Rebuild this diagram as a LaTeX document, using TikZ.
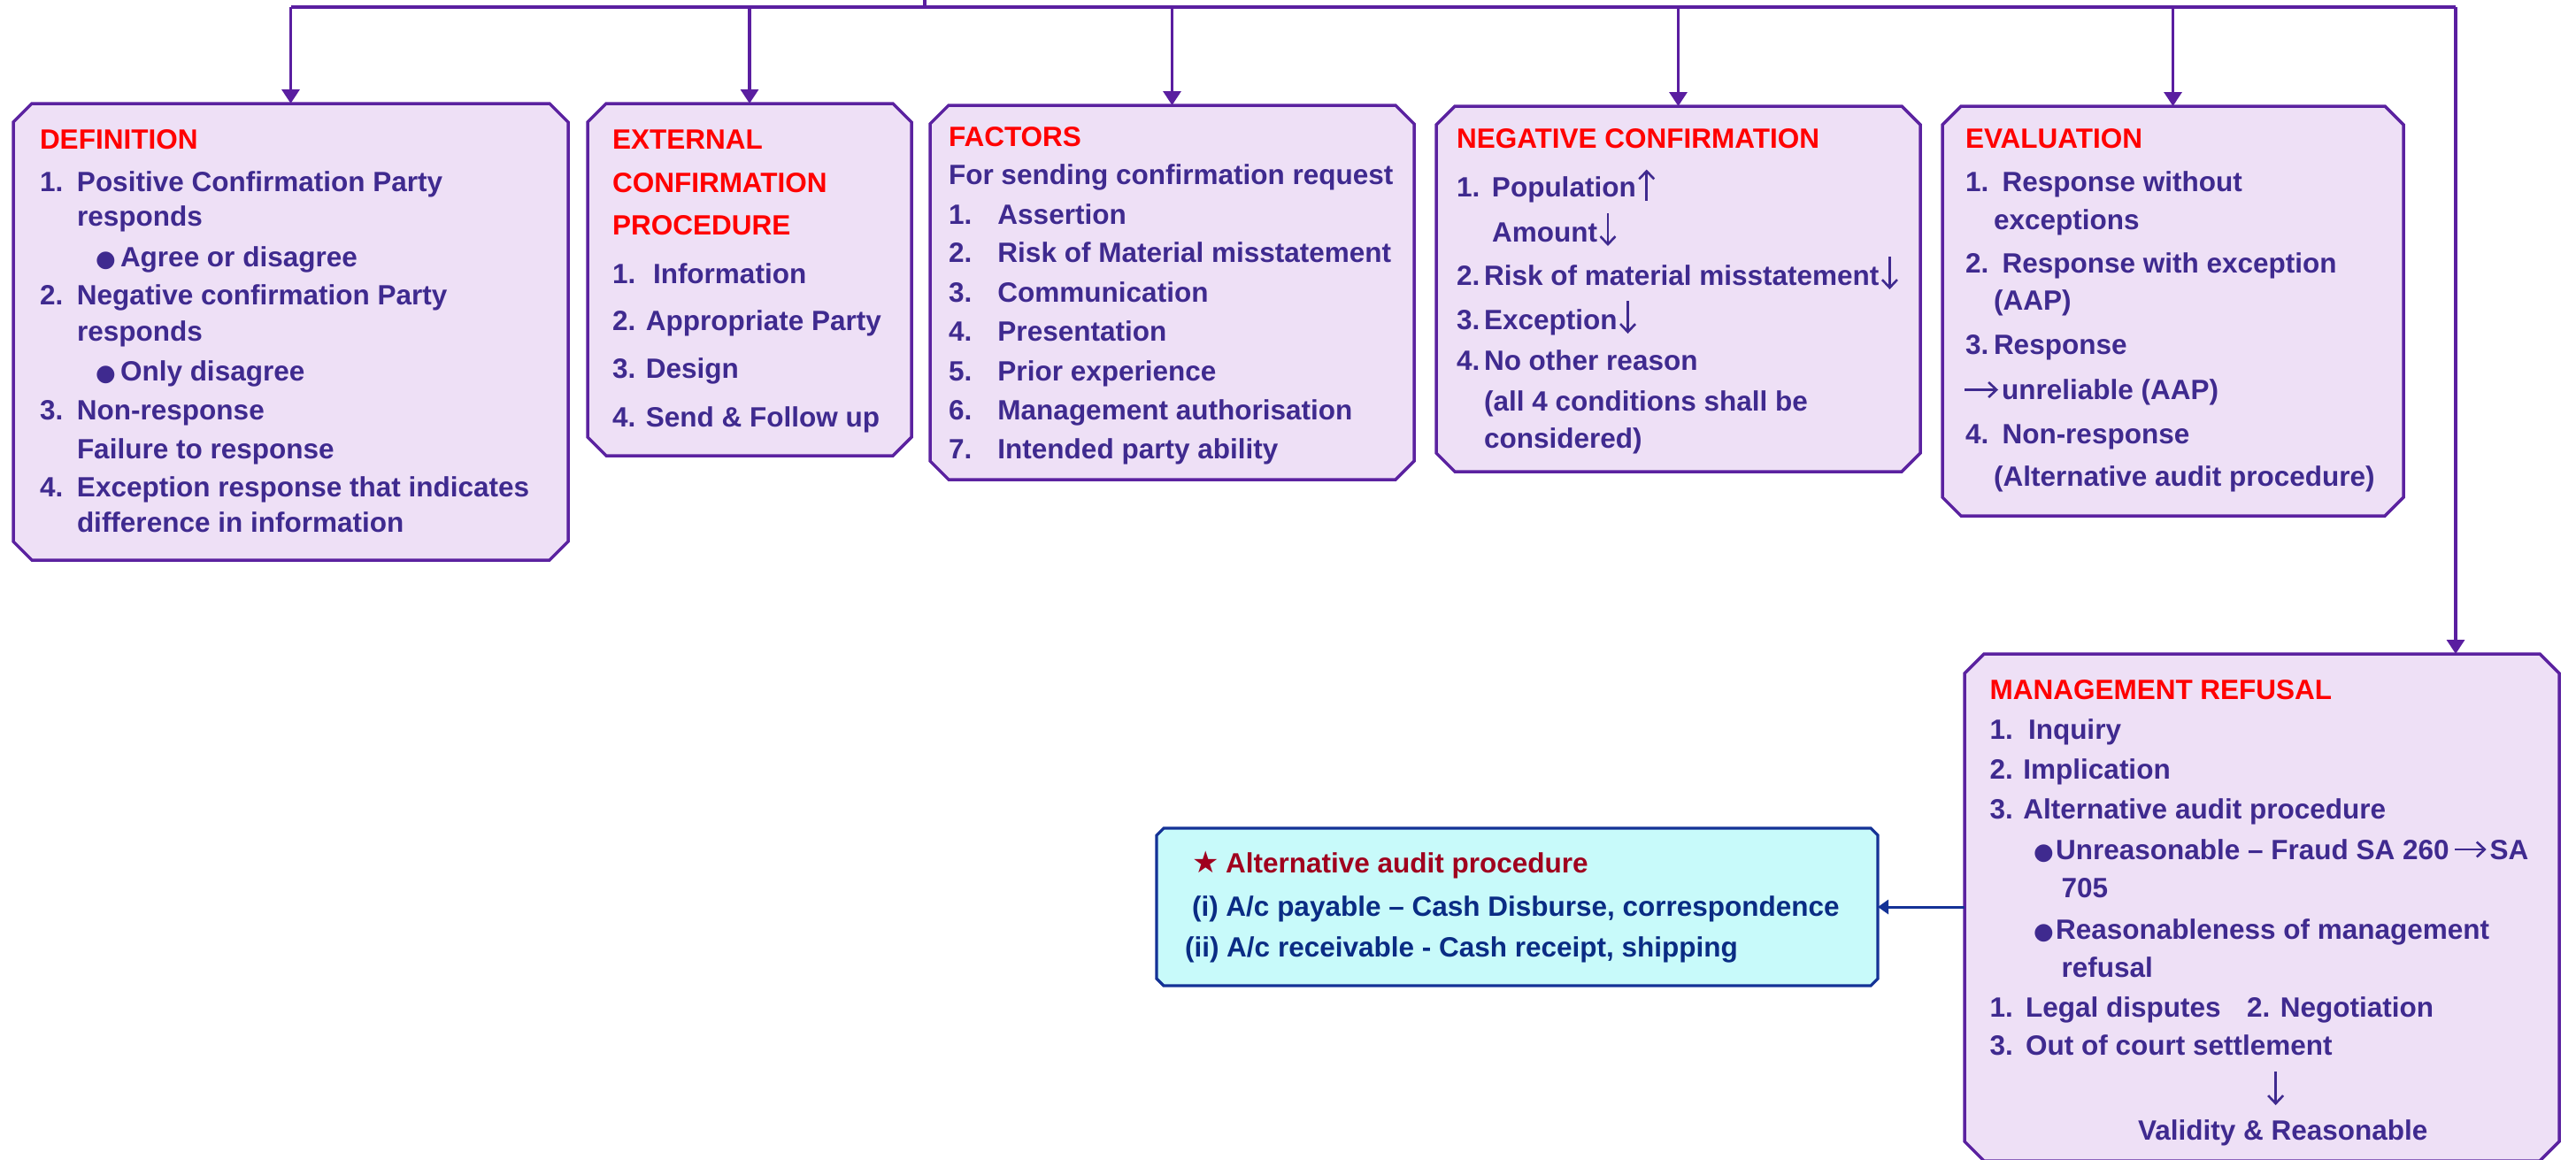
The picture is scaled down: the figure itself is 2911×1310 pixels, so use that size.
\documentclass[tikz,border=0pt]{standalone}
\usepackage{fontspec}
\setmainfont{Liberation Sans}
\newfontfamily\symfont{DejaVu Sans}
\usetikzlibrary{arrows.meta}

\definecolor{busline}{HTML}{5A1EA0}
\definecolor{boxline}{HTML}{5B22A0}
\definecolor{boxfill}{HTML}{EEE0F6}
\definecolor{ink}{HTML}{3F2A8F}
\definecolor{titlered}{HTML}{FF0000}
\definecolor{altfill}{HTML}{C8FAFA}
\definecolor{altline}{HTML}{143296}
\definecolor{altink}{HTML}{0A2C84}
\definecolor{altred}{HTML}{A0001E}

\newcommand\bodyfont{\fontsize{31.5}{38}\selectfont\bfseries}
\newcommand\lbl[2]{\makebox[#1pt][l]{#2}}
\newcommand\bul{{\symfont\mdseries\fontsize{26}{26}\selectfont ●}}
\newcommand\starmark{{\symfont\mdseries\fontsize{34}{34}\selectfont ★}}

% chamfered outline around a named area node: name, chamfer, style
\newcommand\octbox[3]{%
  \path[#3] ([xshift=#2pt]#1.north west) -- ([xshift=-#2pt]#1.north east)
    -- ([yshift=-#2pt]#1.north east) -- ([yshift=#2pt]#1.south east)
    -- ([xshift=-#2pt]#1.south east) -- ([xshift=#2pt]#1.south west)
    -- ([yshift=#2pt]#1.south west) -- ([yshift=-#2pt]#1.north west) -- cycle;}

% small up/down arrow right after the text of a node
\newcommand\upafter[1]{\draw[glyph] ([xshift=12pt,yshift=-4pt]#1.base east) -- ([xshift=12pt,yshift=31pt]#1.base east);}
\newcommand\dnafter[1]{\draw[glyph] ([xshift=12pt,yshift=32pt]#1.base east) -- ([xshift=12pt,yshift=-5pt]#1.base east);}

\tikzset{
  area/.style={rectangle, inner sep=0pt, outer sep=0pt, anchor=north west},
  panel/.style={draw=boxline, fill=boxfill, line width=3.5pt, line join=miter},
  altpanel/.style={draw=altline, fill=altfill, line width=3.2pt, line join=miter},
  txt/.style={anchor=base west, inner sep=0pt, outer sep=0pt, text=ink, font=\bodyfont},
  ttl/.style={txt, text=titlered},
  alttxt/.style={txt, text=altink},
  altttl/.style={txt, text=altred},
  bus/.style={draw=busline, line width=3.3pt},
  drop/.style={bus, -{Triangle[width=20pt,length=16pt]}},
  feed/.style={draw=altline, line width=3pt, -{Triangle[width=16pt,length=12pt]}},
  glyph/.style={draw=ink, line width=2.6pt, -{Straight Barb[length=9pt,width=17pt]}},
}

\begin{document}
\begin{tikzpicture}[x=1pt, y=-1pt]
\useasboundingbox (0,0) rectangle (2911,1310);

% panel areas
\node[area, minimum width=627pt, minimum height=516pt] (def) at (15,117) {};
\node[area, minimum width=366pt, minimum height=398pt] (ext) at (664,117) {};
\node[area, minimum width=547pt, minimum height=423pt] (fac) at (1051,119) {};
\node[area, minimum width=547pt, minimum height=413pt] (neg) at (1623,120) {};
\node[area, minimum width=521pt, minimum height=463pt] (eva) at (2195,120) {};
\node[area, minimum width=672pt, minimum height=573pt] (mgt) at (2220,739) {};
\node[area, minimum width=815pt, minimum height=178pt] (alt) at (1307,936) {};

\octbox{def}{21}{panel}
\octbox{ext}{21}{panel}
\octbox{fac}{21}{panel}
\octbox{neg}{21}{panel}
\octbox{eva}{21}{panel}
\octbox{mgt}{22}{panel}
\octbox{alt}{8}{altpanel}

% distribution bus
\coordinate (root) at (1045,0);
\coordinate (hub) at (1045,8);
\coordinate (busR) at (2775,8);
\draw[bus] (root) -- (hub);
\draw[bus] (hub -| def.north) -- (busR);
\draw[drop] (hub -| def.north) -- (def.north);
\draw[drop] (hub -| ext.north) -- (ext.north);
\draw[drop] (hub -| fac.north) -- (fac.north);
\draw[drop] (hub -| neg.north) -- (neg.north);
\draw[drop] (hub -| eva.north) -- (eva.north);
\draw[drop] (busR) -- (busR |- mgt.north);
\draw[feed] (mgt.west |- alt.east) -- (alt.east);

% DEFINITION
\node[ttl] (d0) at (45,168) {DEFINITION};
\node[txt] (d1) at (45,216) {\lbl{42}{1.}Positive Confirmation Party};
\node[txt] (d2) at (87,255) {responds};
\node[txt] (d3) at (108,301) {\lbl{28}{\bul}Agree or disagree};
\node[txt] (d4) at (45,344) {\lbl{42}{2.}Negative confirmation Party};
\node[txt] (d5) at (87,385) {responds};
\node[txt] (d6) at (108,430) {\lbl{28}{\bul}Only disagree};
\node[txt] (d7) at (45,474) {\lbl{42}{3.}Non-response};
\node[txt] (d8) at (87,518) {Failure to response};
\node[txt] (d9) at (45,561) {\lbl{42}{4.}Exception response that indicates};
\node[txt] (d10) at (87,601) {difference in information};

% EXTERNAL CONFIRMATION PROCEDURE
\node[ttl] (e0) at (692,168) {EXTERNAL};
\node[ttl] (e1) at (692,217) {CONFIRMATION};
\node[ttl] (e2) at (692,265) {PROCEDURE};
\node[txt] (e3) at (692,320) {\lbl{46}{1.}Information};
\node[txt] (e4) at (692,373) {2. Appropriate Party};
\node[txt] (e5) at (692,427) {3. Design};
\node[txt] (e6) at (692,482) {4. Send \& Follow up};

% FACTORS
\node[ttl] (f0) at (1072,165) {FACTORS};
\node[txt] (f1) at (1072,208.5) {For sending confirmation request};
\node[txt] (f2) at (1072,253) {\lbl{55.5}{1.}Assertion};
\node[txt] (f3) at (1072,296.5) {\lbl{55.5}{2.}Risk of Material misstatement};
\node[txt] (f4) at (1072,341) {\lbl{55.5}{3.}Communication};
\node[txt] (f5) at (1072,385) {\lbl{55.5}{4.}Presentation};
\node[txt] (f6) at (1072,430) {\lbl{55.5}{5.}Prior experience};
\node[txt] (f7) at (1072,474) {\lbl{55.5}{6.}Management authorisation};
\node[txt] (f8) at (1072,518) {\lbl{55.5}{7.}Intended party ability};

% NEGATIVE CONFIRMATION
\node[ttl] (n0) at (1646,167.5) {NEGATIVE CONFIRMATION};
\node[txt] (n1) at (1646,222.5) {\lbl{40}{1.}Population};
\node[txt] (n2) at (1686,273) {Amount};
\node[txt] (n3) at (1646,322) {\lbl{31}{2.}Risk of material misstatement};
\node[txt] (n4) at (1646,372) {\lbl{31}{3.}Exception};
\node[txt] (n5) at (1646,418) {\lbl{31}{4.}No other reason};
\node[txt] (n6) at (1677,464) {(all 4 conditions shall be};
\node[txt] (n7) at (1677,506.5) {considered)};
\upafter{n1}
\dnafter{n2}
\dnafter{n3}
\dnafter{n4}

% EVALUATION
\node[ttl] (v0) at (2221,167.5) {EVALUATION};
\node[txt] (v1) at (2221,216) {\lbl{41.5}{1.}Response without};
\node[txt] (v2) at (2253,259) {exceptions};
\node[txt] (v3) at (2221,308) {\lbl{41.5}{2.}Response with exception};
\node[txt] (v4) at (2253,350) {(AAP)};
\node[txt] (v5) at (2221,400) {\lbl{32}{3.}Response};
\node[txt] (v6) at (2262,451.5) {unreliable (AAP)};
\node[txt] (v7) at (2221,501) {\lbl{41.5}{4.}Non-response};
\node[txt] (v8) at (2253,549) {(Alternative audit procedure)};
\draw[glyph] ([xshift=-42pt,yshift=11pt]v6.base west) -- ([xshift=-4pt,yshift=11pt]v6.base west);

% MANAGEMENT REFUSAL
\node[ttl] (m0) at (2248.5,790.5) {MANAGEMENT REFUSAL};
\node[txt] (m1) at (2248.5,835) {\lbl{43.5}{1.}Inquiry};
\node[txt] (m2) at (2248.5,880) {2. Implication};
\node[txt] (m3) at (2248.5,925) {3. Alternative audit procedure};
\node[txt] (m4) at (2298,971) {\lbl{25}{\bul}Unreasonable – Fraud SA 260};
\node[txt] (m4b) at ([xshift=46pt]m4.base east) {SA};
\draw[glyph] ([xshift=6pt,yshift=11pt]m4.base east) -- ([xshift=-4pt,yshift=11pt]m4b.base west);
\node[txt] (m5) at (2329.5,1014.5) {705};
\node[txt] (m6) at (2298,1061.5) {\lbl{25}{\bul}Reasonableness of management};
\node[txt] (m7) at (2329.5,1104) {refusal};
\node[txt] (m8) at (2248.5,1149) {\lbl{40.5}{1.}Legal disputes};
\node[txt] (m9) at (2539,1149) {2. Negotiation};
\node[txt] (m10) at (2248.5,1192) {\lbl{40.5}{3.}Out of court settlement};
\node[txt] (m12) at (2416,1288) {Validity \& Reasonable};
\coordinate (vtop) at (2571.6,1211);
\coordinate (vbot) at (2571.6,1249);
\draw[glyph] (vtop) -- (vbot);

% alternative audit procedure note
\node[altttl] (a0) at (1347,986.5) {\lbl{38}{\starmark}Alternative audit procedure};
\node[alttxt] (a1) at (1347,1035) {(i) A/c payable – Cash Disburse, correspondence};
\node[alttxt] (a2) at (1339,1081.5) {(ii) A/c receivable - Cash receipt, shipping};
\end{tikzpicture}
\end{document}
